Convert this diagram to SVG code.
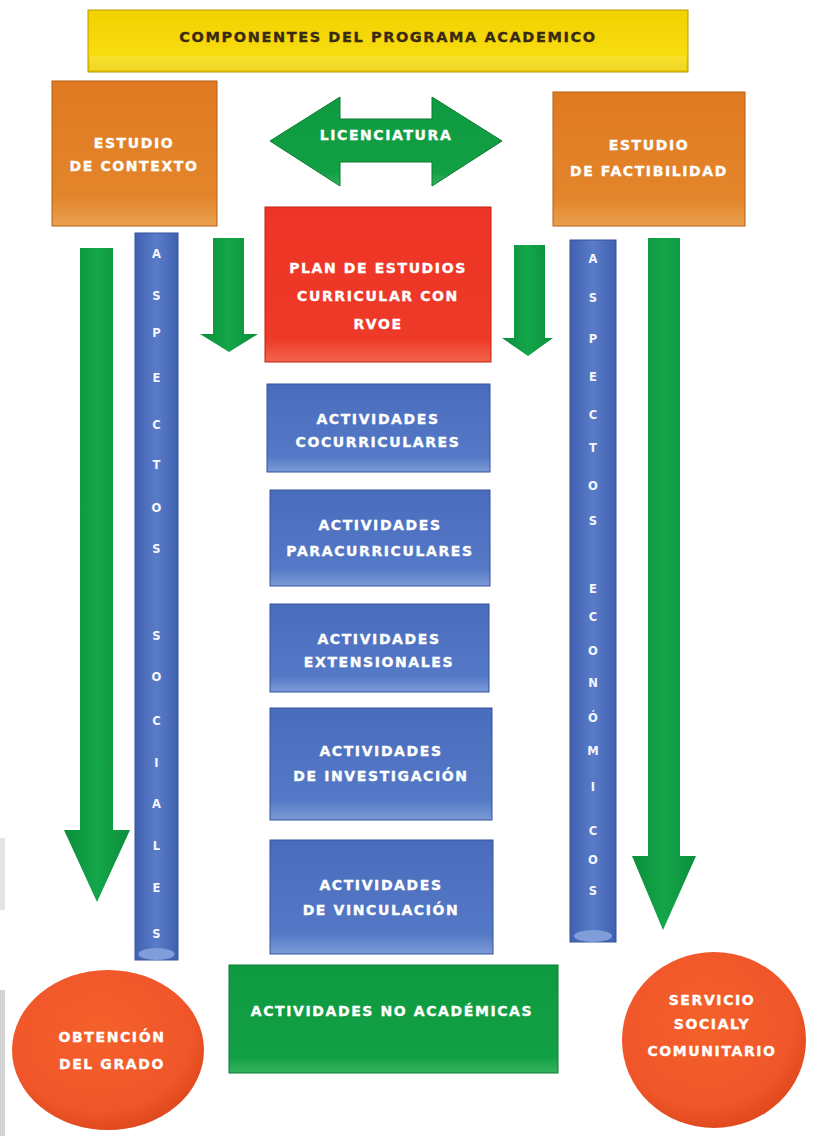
<svg xmlns="http://www.w3.org/2000/svg" width="824" height="1136" viewBox="0 0 824 1136">
<style>
  .t { font-family: "DejaVu Sans", "Liberation Sans", sans-serif; font-weight: bold; font-size: 14px; fill: #ffffff; stroke: #ffffff; stroke-width: 0.35; text-anchor: middle; letter-spacing: 1.6px; }
  .dk { fill: #3a2a12; stroke: #3a2a12; font-size: 14.5px; letter-spacing: 1.6px; }
  .v { font-family: "DejaVu Sans", "Liberation Sans", sans-serif; font-weight: bold; font-size: 11.5px; fill: #f4f6ff; text-anchor: middle; }
</style>
<defs>
  <linearGradient id="gy" x1="0" y1="0" x2="0" y2="1">
    <stop offset="0" stop-color="#f2d200"/><stop offset="0.75" stop-color="#f7dc10"/><stop offset="1" stop-color="#e8c400"/>
  </linearGradient>
  <linearGradient id="go" x1="0" y1="0" x2="0" y2="1">
    <stop offset="0" stop-color="#e07a22"/><stop offset="0.8" stop-color="#e3852b"/><stop offset="1" stop-color="#eaa050"/>
  </linearGradient>
  <linearGradient id="gb" x1="0" y1="0" x2="0" y2="1">
    <stop offset="0" stop-color="#4a6cbd"/><stop offset="0.82" stop-color="#5479c6"/><stop offset="1" stop-color="#7c9ad6"/>
  </linearGradient>
  <linearGradient id="gbv" x1="0" y1="0" x2="1" y2="0">
    <stop offset="0" stop-color="#3f61b0"/><stop offset="0.5" stop-color="#5a7cc8"/><stop offset="1" stop-color="#3f61b0"/>
  </linearGradient>
  <linearGradient id="gr" x1="0" y1="0" x2="0" y2="1">
    <stop offset="0" stop-color="#ee3426"/><stop offset="0.85" stop-color="#ee3a28"/><stop offset="1" stop-color="#f2644c"/>
  </linearGradient>
  <linearGradient id="gg" x1="0" y1="0" x2="0" y2="1">
    <stop offset="0" stop-color="#0e9a40"/><stop offset="0.85" stop-color="#12a045"/><stop offset="1" stop-color="#35b35f"/>
  </linearGradient>
  <linearGradient id="ggv" x1="0" y1="0" x2="1" y2="0">
    <stop offset="0" stop-color="#0b8e3a"/><stop offset="0.5" stop-color="#14a64a"/><stop offset="1" stop-color="#0b8e3a"/>
  </linearGradient>
  <radialGradient id="gc" cx="0.45" cy="0.4" r="0.6">
    <stop offset="0" stop-color="#f4602a"/><stop offset="0.8" stop-color="#f0562a"/><stop offset="1" stop-color="#e04a1e"/>
  </radialGradient>
</defs>

<rect width="824" height="1136" fill="#ffffff"/>
<!-- edge artifacts -->
<rect x="0" y="838" width="5" height="72" fill="#e4e4e4"/>
<rect x="0" y="990" width="5" height="146" fill="#d4d4d4"/>

<g id="title">
  <rect x="88" y="10" width="600" height="62" fill="url(#gy)" stroke="#b89a00"/>
  <rect x="90" y="56" width="596" height="14" fill="#f8e64a" opacity="0.5"/>
  <text class="t dk" x="388" y="42">COMPONENTES DEL PROGRAMA ACADEMICO</text>
</g>

<g id="estudio-contexto">
  <rect x="52" y="81" width="165" height="145" fill="url(#go)" stroke="#b45e10"/>
  <text class="t" x="134" y="148">ESTUDIO</text>
  <text class="t" x="134" y="171">DE CONTEXTO</text>
</g>

<g id="licenciatura">
  <path d="M270,141 L340,97 L340,119 L432,119 L432,97 L502,141 L432,186 L432,162 L340,162 L340,186 Z" fill="url(#gg)" stroke="#0a7a30"/>
  <text class="t" x="386" y="140">LICENCIATURA</text>
</g>

<g id="estudio-factibilidad">
  <rect x="553" y="92" width="192" height="134" fill="url(#go)" stroke="#b45e10"/>
  <text class="t" x="649" y="150">ESTUDIO</text>
  <text class="t" x="649" y="176">DE FACTIBILIDAD</text>
</g>

<g id="plan-estudios">
  <rect x="265" y="207" width="226" height="155" fill="url(#gr)" stroke="#c02010"/>
  <text class="t" x="378" y="273">PLAN DE ESTUDIOS</text>
  <text class="t" x="378" y="301">CURRICULAR CON</text>
  <text class="t" x="378" y="329">RVOE</text>
</g>

<g id="aspectos-sociales">
  <rect x="135" y="233" width="43" height="727" fill="url(#gbv)" stroke="#34539a"/>
  <ellipse cx="156.5" cy="954" rx="18" ry="6" fill="#7f9dd8"/>
  <text class="v" x="156.5" y="258">A</text>
  <text class="v" x="156.5" y="300">S</text>
  <text class="v" x="156.5" y="337">P</text>
  <text class="v" x="156.5" y="382">E</text>
  <text class="v" x="156.5" y="429">C</text>
  <text class="v" x="156.5" y="469">T</text>
  <text class="v" x="156.5" y="512">O</text>
  <text class="v" x="156.5" y="553">S</text>
  <text class="v" x="156.5" y="640">S</text>
  <text class="v" x="156.5" y="681">O</text>
  <text class="v" x="156.5" y="725">C</text>
  <text class="v" x="156.5" y="767">I</text>
  <text class="v" x="156.5" y="808">A</text>
  <text class="v" x="156.5" y="850">L</text>
  <text class="v" x="156.5" y="892">E</text>
  <text class="v" x="156.5" y="938">S</text>
</g>

<g id="aspectos-economicos">
  <rect x="570" y="240" width="46" height="702" fill="url(#gbv)" stroke="#34539a"/>
  <ellipse cx="593" cy="936" rx="19" ry="6" fill="#7f9dd8"/>
  <text class="v" x="593" y="263">A</text>
  <text class="v" x="593" y="302">S</text>
  <text class="v" x="593" y="343">P</text>
  <text class="v" x="593" y="381">E</text>
  <text class="v" x="593" y="419">C</text>
  <text class="v" x="593" y="452">T</text>
  <text class="v" x="593" y="490">O</text>
  <text class="v" x="593" y="525">S</text>
  <text class="v" x="593" y="593">E</text>
  <text class="v" x="593" y="621">C</text>
  <text class="v" x="593" y="655">O</text>
  <text class="v" x="593" y="687">N</text>
  <text class="v" x="593" y="722">Ó</text>
  <text class="v" x="593" y="755">M</text>
  <text class="v" x="593" y="791">I</text>
  <text class="v" x="593" y="835">C</text>
  <text class="v" x="593" y="864">O</text>
  <text class="v" x="593" y="895">S</text>
</g>

<g id="act-cocurriculares">
  <rect x="267" y="384" width="223" height="88" fill="url(#gb)" stroke="#34539a"/>
  <text class="t" x="378" y="424">ACTIVIDADES</text>
  <text class="t" x="378" y="447">COCURRICULARES</text>
</g>
<g id="act-paracurriculares">
  <rect x="270" y="490" width="220" height="96" fill="url(#gb)" stroke="#34539a"/>
  <text class="t" x="380" y="530">ACTIVIDADES</text>
  <text class="t" x="380" y="556">PARACURRICULARES</text>
</g>
<g id="act-extensionales">
  <rect x="270" y="604" width="219" height="88" fill="url(#gb)" stroke="#34539a"/>
  <text class="t" x="379" y="644">ACTIVIDADES</text>
  <text class="t" x="379" y="667">EXTENSIONALES</text>
</g>
<g id="act-investigacion">
  <rect x="270" y="708" width="222" height="112" fill="url(#gb)" stroke="#34539a"/>
  <text class="t" x="381" y="756">ACTIVIDADES</text>
  <text class="t" x="381" y="781">DE INVESTIGACIÓN</text>
</g>
<g id="act-vinculacion">
  <rect x="270" y="840" width="223" height="114" fill="url(#gb)" stroke="#34539a"/>
  <text class="t" x="381" y="890">ACTIVIDADES</text>
  <text class="t" x="381" y="915">DE VINCULACIÓN</text>
</g>

<g id="act-no-academicas">
  <rect x="229" y="965" width="329" height="108" fill="url(#gg)" stroke="#0a7a30"/>
  <text class="t" x="392" y="1016">ACTIVIDADES NO ACADÉMICAS</text>
</g>

<g id="obtencion-grado">
  <ellipse cx="108" cy="1050" rx="96" ry="80" fill="url(#gc)"/>
  <text class="t" x="112" y="1042">OBTENCIÓN</text>
  <text class="t" x="112" y="1069">DEL GRADO</text>
</g>

<g id="servicio-social">
  <ellipse cx="714" cy="1040" rx="92" ry="88" fill="url(#gc)"/>
  <text class="t" x="712" y="1005">SERVICIO</text>
  <text class="t" x="712" y="1029">SOCIALY</text>
  <text class="t" x="712" y="1056">COMUNITARIO</text>
</g>

<g id="connectors">
  <path d="M80,248 L113,248 L113,830 L130,830 L97,902 L64,830 L80,830 Z" fill="url(#ggv)"/>
  <path d="M648,238 L680,238 L680,856 L696,856 L663,930 L632,856 L648,856 Z" fill="url(#ggv)"/>
  <path d="M213,238 L244,238 L244,334 L258,334 L229,352 L200,334 L213,334 Z" fill="url(#ggv)"/>
  <path d="M514,245 L545,245 L545,338 L553,338 L528,356 L502,338 L514,338 Z" fill="url(#ggv)"/>
</g>
</svg>
